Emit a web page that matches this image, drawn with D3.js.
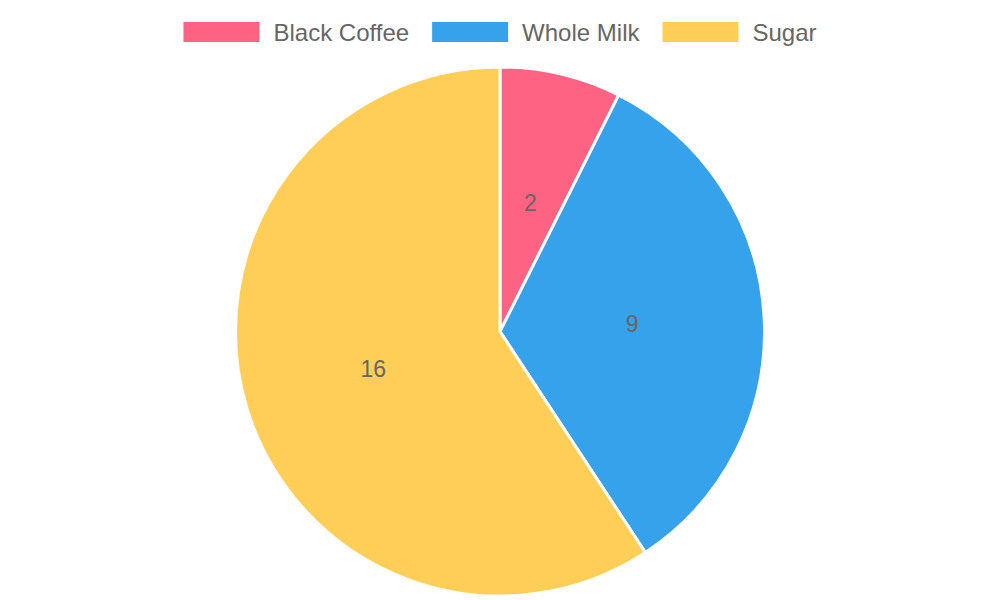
<!DOCTYPE html>
<html>
<head>
<meta charset="utf-8">
<script src="https://cdn.jsdelivr.net/npm/d3@7"></script>
<style>
  body { margin: 0; background: #fff; }
  svg { display: block; font-family: "Liberation Sans", Arial, sans-serif; }
</style>
</head>
<body>
<svg id="chart"></svg>
<script>
const categories = ["Black Coffee", "Whole Milk", "Sugar"];
const values = [2, 9, 16];
const colors = ["#FF6384", "#36A2EB", "#FFCE56"];

const width = 1000;
const height = 600;
const cx = 500;
const cy = 331.5;
const radius = 264.5;

const svg = d3.select("#chart").attr("width", width).attr("height", height);

const pie = d3.pie().sort(null).value(d => d);
const arcs = pie(values);
const arc = d3.arc().innerRadius(0).outerRadius(radius);
const labelArc = d3.arc().innerRadius(radius / 2).outerRadius(radius / 2);

const g = svg.append("g").attr("transform", `translate(${cx},${cy})`);

// Slices
g.selectAll("path")
  .data(arcs)
  .enter()
  .append("path")
  .attr("d", arc)
  .attr("fill", (d, i) => colors[i])
  .attr("stroke", "#fff")
  .attr("stroke-width", 3)
  .attr("stroke-linejoin", "round");

// Value labels
g.selectAll("text.value")
  .data(arcs)
  .enter()
  .append("text")
  .attr("class", "value")
  .attr("transform", d => `translate(${labelArc.centroid(d)})`)
  .attr("text-anchor", "middle")
  .attr("dominant-baseline", "central")
  .attr("fill", "#666")
  .style("font-size", "23px")
  .text(d => d.data);

// Legend
const boxW = 76;
const boxH = 20;
const boxGap = 14;
const itemGap = 23;
const legend = svg.append("g");

const items = legend.selectAll("g")
  .data(categories)
  .enter()
  .append("g");

items.append("text")
  .attr("fill", "#666")
  .style("font-size", "24px")
  .attr("dominant-baseline", "central")
  .attr("y", 32)
  .text(d => d);

let x = 0;
items.each(function (d, i) {
  const item = d3.select(this);
  const tw = item.select("text").node().getComputedTextLength();
  item.append("rect")
    .attr("x", x)
    .attr("y", 22)
    .attr("width", boxW)
    .attr("height", boxH)
    .attr("fill", colors[i]);
  item.select("text").attr("x", x + boxW + boxGap);
  x += boxW + boxGap + tw + itemGap;
});
const totalW = x - itemGap;
legend.attr("transform", `translate(${(width - totalW) / 2},0)`);
</script>
</body>
</html>
